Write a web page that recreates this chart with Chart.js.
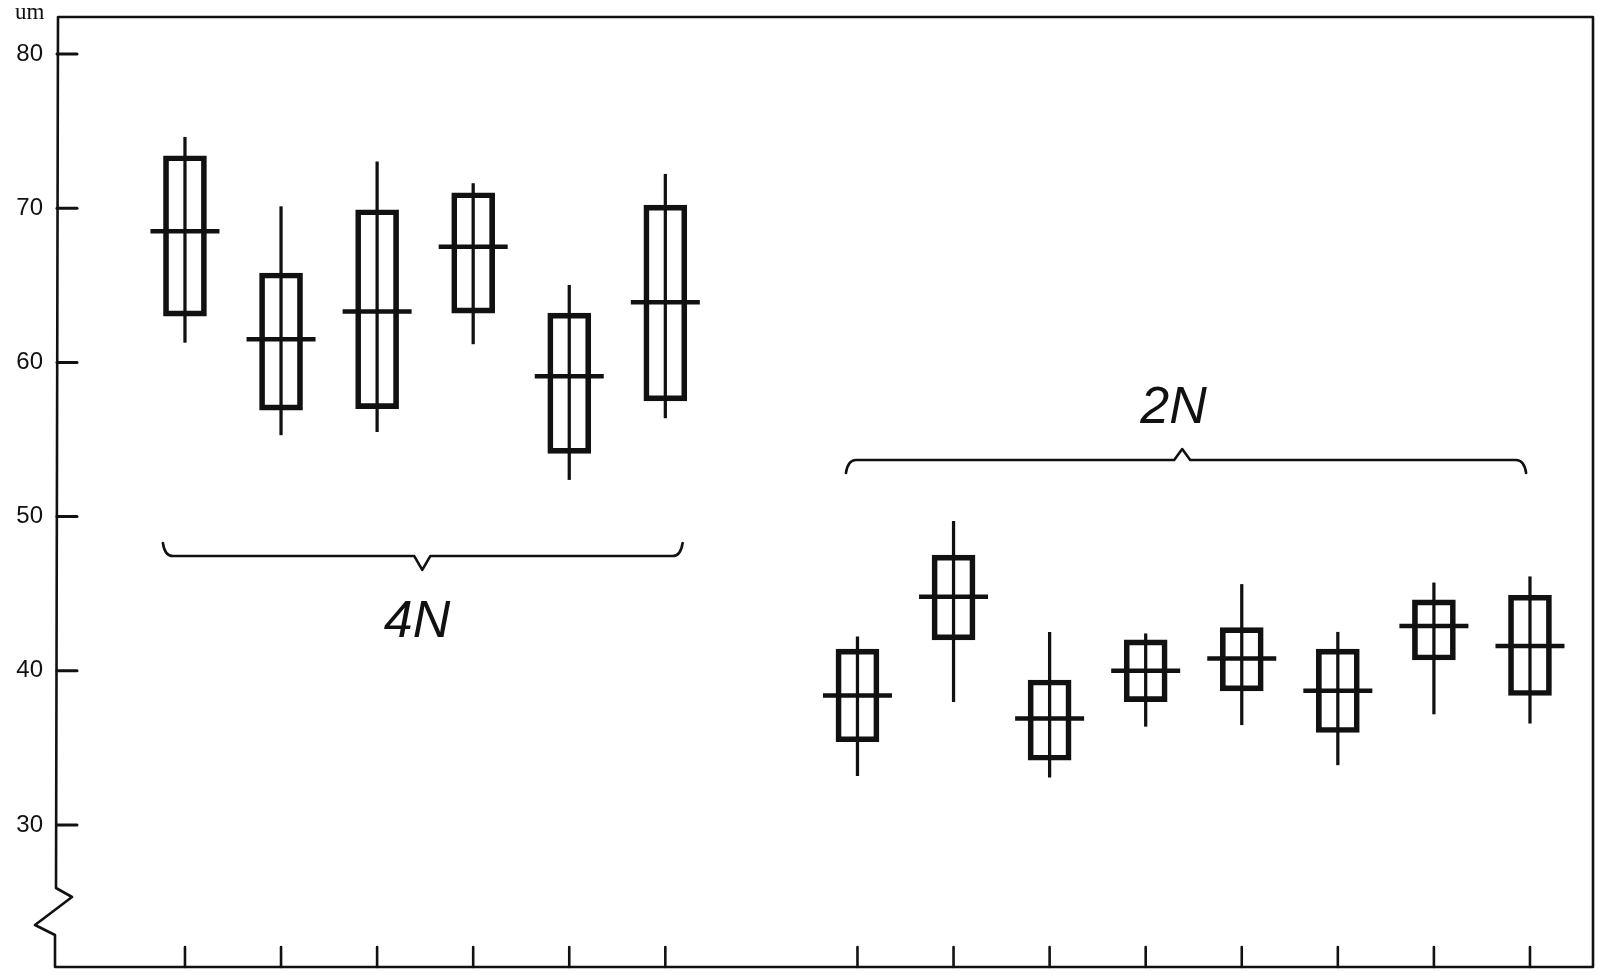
<!DOCTYPE html>
<html>
<head>
<meta charset="utf-8">
<script src="https://cdn.jsdelivr.net/npm/chart.js@4.4.1/dist/chart.umd.min.js"></script>
<style>
  html, body { margin: 0; padding: 0; background: #ffffff; }
  canvas { display: block; }
</style>
</head>
<body>
<canvas id="c" width="1606" height="980"></canvas>
<script>
// ---------- data ----------
const categories = ['4N-1','4N-2','4N-3','4N-4','4N-5','4N-6',
                    '2N-1','2N-2','2N-3','2N-4','2N-5','2N-6','2N-7','2N-8'];
const groups     = ['4N','4N','4N','4N','4N','4N','2N','2N','2N','2N','2N','2N','2N','2N'];
// slot of each sample along the x axis (slot 7 is the empty gap between groups)
const slots      = [1, 2, 3, 4, 5, 6, 8, 9, 10, 11, 12, 13, 14, 15];
const minValues  = [61.3, 55.3, 55.5, 61.2, 52.4, 56.4, 33.2, 38.0, 33.1, 36.4, 36.5, 33.9, 37.2, 36.6];
const lowValues  = [63.0, 56.9, 57.0, 63.2, 54.1, 57.5, 35.4, 42.0, 34.2, 38.0, 38.7, 36.0, 40.7, 38.4];
const meanValues = [68.5, 61.5, 63.3, 67.5, 59.1, 63.9, 38.4, 44.8, 36.9, 40.0, 40.8, 38.7, 42.9, 41.6];
const highValues = [73.4, 65.8, 69.9, 71.0, 63.2, 70.2, 41.4, 47.5, 39.4, 42.0, 42.8, 41.4, 44.6, 44.9];
const maxValues  = [74.6, 70.1, 73.0, 71.6, 65.0, 72.2, 42.2, 49.7, 42.5, 42.4, 45.6, 42.5, 45.7, 46.1];
const yTickValues = [30, 40, 50, 60, 70, 80];
const yUnitLabel = 'um';
const groupNames = ['4N', '2N'];

// ---------- annotation placement (data units) ----------
const braceSpecs = [
  { x0: 0.77, x1: 6.18, xm: 3.47, yLine: 47.44, yTip: 48.29, yPoint: 46.54 },
  { x0: 7.88, x1: 14.96, xm: 11.38, yLine: 53.67, yTip: 52.83, yPoint: 54.38 }
];
const groupLabelSpots = [
  { x: 3.415, y: 42.19 },
  { x: 11.29, y: 56.07 }
];

const INK = '#111111';

const decor = {
  id: 'decor',
  afterDatasetsDraw(chart) {
    const { ctx, chartArea: a, scales } = chart;
    const xs = scales.x, ys = scales.y;
    ctx.save();
    ctx.strokeStyle = INK;
    ctx.fillStyle = INK;
    ctx.lineCap = 'round';
    ctx.lineJoin = 'round';

    // frame with broken y axis
    const b = a.bottom;
    ctx.lineWidth = 2.6;
    ctx.beginPath();
    ctx.moveTo(a.left + 1, a.top);
    ctx.lineTo(a.left - 1, b - 79);
    ctx.lineTo(a.left + 15, b - 70);
    ctx.lineTo(a.left - 22, b - 42);
    ctx.lineTo(a.left - 2, b - 32);
    ctx.lineTo(a.left - 2, b);
    ctx.lineTo(a.right, b);
    ctx.lineTo(a.right, a.top);
    ctx.closePath();
    ctx.stroke();

    // inward y ticks
    ctx.lineWidth = 3;
    yTickValues.forEach(v => {
      const py = ys.getPixelForValue(v);
      ctx.beginPath();
      ctx.moveTo(a.left, py);
      ctx.lineTo(a.left + 20, py);
      ctx.stroke();
    });

    // inward x ticks
    ctx.lineWidth = 2.6;
    slots.forEach(s => {
      const px = xs.getPixelForValue(s);
      ctx.beginPath();
      ctx.moveTo(px, b);
      ctx.lineTo(px, b - 20);
      ctx.stroke();
    });

    // braces
    ctx.lineWidth = 2.6;
    braceSpecs.forEach(br => {
      const X0 = xs.getPixelForValue(br.x0), X1 = xs.getPixelForValue(br.x1), XM = xs.getPixelForValue(br.xm);
      const YL = ys.getPixelForValue(br.yLine), YT = ys.getPixelForValue(br.yTip), YP = ys.getPixelForValue(br.yPoint);
      ctx.beginPath();
      ctx.moveTo(X0, YT);
      ctx.quadraticCurveTo(X0 + 2, YL, X0 + 10, YL);
      ctx.lineTo(XM - 8, YL);
      ctx.lineTo(XM, YP);
      ctx.lineTo(XM + 8, YL);
      ctx.lineTo(X1 - 10, YL);
      ctx.quadraticCurveTo(X1 - 2, YL, X1, YT);
      ctx.stroke();
    });

    // group labels
    ctx.font = 'italic 52px "Liberation Sans", Arial, sans-serif';
    ctx.textAlign = 'center';
    ctx.textBaseline = 'alphabetic';
    groupNames.forEach((g, i) => {
      const p = groupLabelSpots[i];
      ctx.fillText(g, xs.getPixelForValue(p.x), ys.getPixelForValue(p.y));
    });

    // unit label
    ctx.font = '23px "Liberation Serif", "Times New Roman", serif';
    ctx.textAlign = 'left';
    ctx.fillText(yUnitLabel, 15, 19);

    ctx.restore();
  }
};

new Chart(document.getElementById('c'), {
  type: 'bar',
  data: {
    labels: categories,
    datasets: [
      {
        label: 'range',
        data: slots.map((s, i) => ({ x: s, y: [minValues[i], maxValues[i]] })),
        backgroundColor: INK,
        borderWidth: 0,
        barThickness: 2.6,
        grouped: false,
        order: 3
      },
      {
        label: 'box',
        data: slots.map((s, i) => ({ x: s, y: [lowValues[i], highValues[i]] })),
        backgroundColor: 'rgba(0,0,0,0)',
        borderColor: INK,
        borderWidth: 5,
        borderSkipped: false,
        barThickness: 43,
        grouped: false,
        order: 2
      },
      {
        type: 'line',
        label: 'mean',
        data: slots.map((s, i) => ({ x: s, y: meanValues[i] })),
        showLine: false,
        pointStyle: 'line',
        pointRadius: 34.5,
        pointHoverRadius: 34.5,
        pointBorderWidth: 4.5,
        pointHoverBorderWidth: 4.5,
        pointBorderColor: INK,
        pointBackgroundColor: INK,
        order: 1
      }
    ]
  },
  options: {
    responsive: false,
    animation: false,
    devicePixelRatio: 1,
    events: [],
    layout: { autoPadding: false, padding: { top: 17, right: 13, bottom: 13, left: 0 } },
    plugins: { legend: { display: false }, tooltip: { enabled: false } },
    scales: {
      x: {
        type: 'linear',
        display: false,
        offset: false,
        min: -0.332,
        max: 15.656,
        grid: { display: false, offset: false }
      },
      y: {
        type: 'linear',
        min: 20.79,
        max: 82.40,
        beginAtZero: false,
        grid: { display: false, drawTicks: false },
        border: { display: false },
        afterFit: s => { s.width = 57; s.paddingTop = 0; s.paddingBottom = 0; },
        afterBuildTicks: s => { s.ticks = yTickValues.map(v => ({ value: v })); },
        ticks: {
          padding: 14,
          color: INK,
          font: { family: '"Liberation Sans", Arial, sans-serif', size: 24 },
          callback: v => String(v)
        }
      }
    }
  },
  plugins: [decor]
});
</script>
</body>
</html>
